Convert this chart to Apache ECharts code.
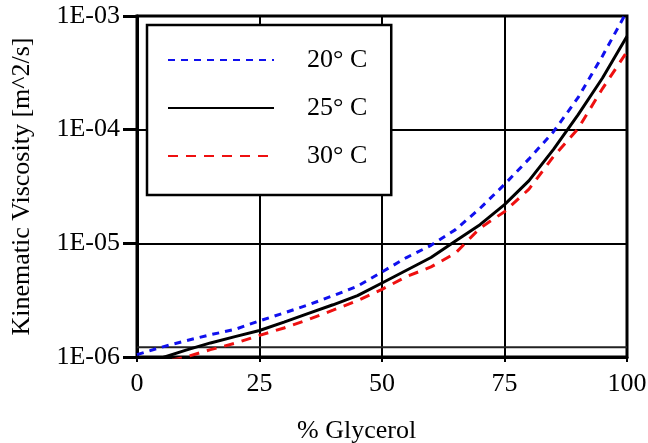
<!DOCTYPE html>
<html>
<head>
<meta charset="utf-8">
<script src="https://cdn.jsdelivr.net/npm/echarts@6/dist/echarts.min.js"></script>
<style>
html,body{margin:0;padding:0;background:#fff;}
#chart{width:648px;height:443px;}
</style>
</head>
<body>
<div id="chart"></div>
<script>
// % glycerol (x values)
const glycerol = [0, 5, 10, 15, 20, 25, 30, 35, 40, 45, 50, 55, 60, 65, 70, 75, 80, 85, 90, 95, 100];
// kinematic viscosity [m^2/s]
const visc20 = [1.05e-6, 1.22e-6, 1.39e-6, 1.57e-6, 1.75e-6, 2.08e-6, 2.44e-6, 2.88e-6, 3.46e-6, 4.2e-6, 5.6e-6, 7.5e-6, 9.6e-6, 1.32e-5, 2.03e-5, 3.3e-5, 5.53e-5, 9.6e-5, 1.91e-4, 4.45e-4, 1.1e-3];
const visc25 = [0.90e-6, 0.98e-6, 1.15e-6, 1.33e-6, 1.51e-6, 1.71e-6, 2.03e-6, 2.42e-6, 2.88e-6, 3.47e-6, 4.48e-6, 5.8e-6, 7.5e-6, 1.05e-5, 1.46e-5, 2.19e-5, 3.56e-5, 6.7e-5, 1.35e-4, 2.85e-4, 6.65e-4];
const visc30 = [0.80e-6, 0.90e-6, 1.0e-6, 1.16e-6, 1.32e-6, 1.55e-6, 1.8e-6, 2.14e-6, 2.58e-6, 3.13e-6, 3.94e-6, 5.1e-6, 6.2e-6, 8.2e-6, 1.36e-5, 1.9e-5, 3.0e-5, 5.8e-5, 1.02e-4, 2.3e-4, 4.85e-4];
const seriesNames = ['20° C', '25° C', '30° C'];
const xTickLabels = ['0', '25', '50', '75', '100'];
const yTickLabels = ['1E-06', '1E-05', '1E-04', '1E-03'];
const extraLevelX = [0, 100];
const extraLevel = [1.22e-6, 1.22e-6];

const FONT = 'Liberation Serif';
function pairs(xs, ys) { return xs.map((x, i) => [x, ys[i]]); }

const chart = echarts.init(document.getElementById('chart'), null, {renderer: 'canvas'});
chart.setOption({
  animation: false,
  backgroundColor: '#fff',
  grid: {left: 137, right: 21, top: 16, bottom: 86, containLabel: false, outerBoundsMode: 'none',
    show: true, borderColor: '#000', borderWidth: 3, backgroundColor: 'transparent'},
  xAxis: {
    type: 'value', min: 0, max: 100, interval: 25,
    axisLine: {show: true, lineStyle: {color: '#000', width: 3}},
    axisTick: {show: true, inside: false, length: 5, lineStyle: {color: '#000', width: 2}},
    splitLine: {show: true, lineStyle: {color: '#000', width: 2}},
    axisLabel: {color: '#000', fontFamily: FONT, fontSize: 26, margin: 14,
      formatter: (v) => xTickLabels[Math.round(v / 25)]}
  },
  yAxis: {
    type: 'log', logBase: 10, min: 1e-6, max: 1e-3,
    name: 'Kinematic Viscosity [m^2/s]', nameLocation: 'middle', nameGap: 102,
    nameTextStyle: {color: '#000', fontFamily: FONT, fontSize: 26},
    axisLine: {show: true, lineStyle: {color: '#000', width: 3}},
    axisTick: {show: true, inside: false, length: 14, lineStyle: {color: '#000', width: 3}},
    splitLine: {show: true, lineStyle: {color: '#000', width: 2}},
    axisLabel: {color: '#000', fontFamily: FONT, fontSize: 26, margin: 17,
      formatter: (v) => yTickLabels[Math.round(Math.log10(v)) + 6]}
  },
  legend: {
    orient: 'vertical', left: 147, top: 25,
    backgroundColor: '#fff', borderColor: '#000', borderWidth: 2.5,
    padding: [22, 24, 26, 20], itemGap: 22,
    itemWidth: 106, itemHeight: 26,
    itemStyle: {opacity: 0},
    textStyle: {color: '#000', fontFamily: FONT, fontSize: 26, padding: [0, 0, 0, 28]},
    data: seriesNames
  },
  graphic: [{
    type: 'text', left: 297, top: 418,
    style: {text: '% Glycerol', fill: '#000', font: '26px "Liberation Serif"'}
  }],
  series: [
    {name: 'level', type: 'line', data: pairs(extraLevelX, extraLevel), symbol: 'none', silent: true,
      lineStyle: {color: '#222', width: 2, type: 'solid'}, z: 1},
    {name: seriesNames[0], type: 'line', data: pairs(glycerol, visc20), symbol: 'none', clip: true,
      lineStyle: {color: '#1010ee', width: 3, type: [7, 6]}, itemStyle: {color: '#1010ee'}},
    {name: seriesNames[1], type: 'line', data: pairs(glycerol, visc25), symbol: 'none', clip: true,
      lineStyle: {color: '#000', width: 3, type: 'solid'}, itemStyle: {color: '#000'}},
    {name: seriesNames[2], type: 'line', data: pairs(glycerol, visc30), symbol: 'none', clip: true,
      lineStyle: {color: '#ee1010', width: 3, type: [10, 8]}, itemStyle: {color: '#ee1010'}}
  ]
});
</script>
</body>
</html>
